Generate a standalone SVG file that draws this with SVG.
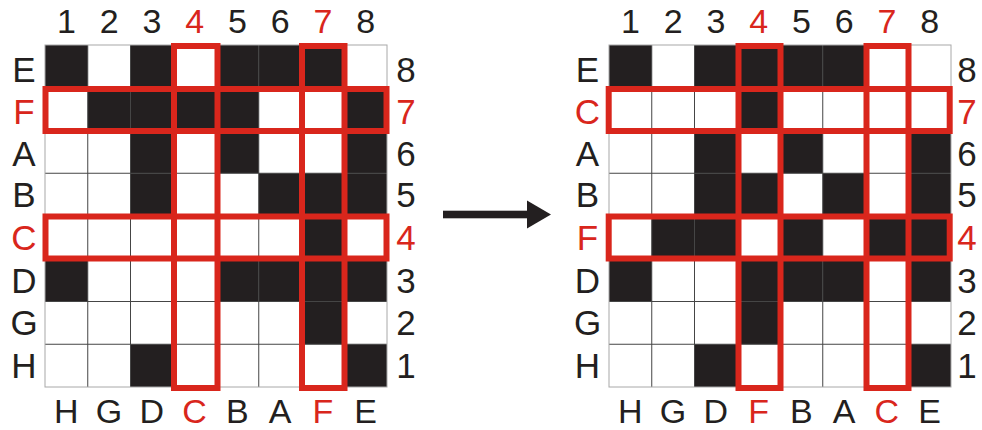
<svg xmlns="http://www.w3.org/2000/svg" width="982" height="430" viewBox="0 0 982 430">
<style>
  .b{fill:#231f20}
  .g{fill:none;stroke:#454545;stroke-width:1}
  .o{fill:none;stroke:#a8a8a8;stroke-width:1}
  .r{fill:none;stroke:#d9261c;stroke-width:6}
  text{font-family:"Liberation Sans",Arial,sans-serif;text-anchor:middle;fill:#231f20}
  .top{font-size:34px}
  .side{font-size:35px}
  .bot{font-size:34px}
  .red{fill:#d9261c}
</style>
<defs>
  <rect id="c" width="42.75" height="42.75"/>
</defs>
<rect width="982" height="430" fill="#fff"/>
<g id="left-grid">
  <g class="b">
    <use href="#c" x="45" y="45"/><use href="#c" x="130.5" y="45"/><use href="#c" x="216" y="45"/><use href="#c" x="258.75" y="45"/><use href="#c" x="301.5" y="45"/>
    <use href="#c" x="87.75" y="87.75"/><use href="#c" x="130.5" y="87.75"/><use href="#c" x="173.25" y="87.75"/><use href="#c" x="216" y="87.75"/><use href="#c" x="344.25" y="87.75"/>
    <use href="#c" x="130.5" y="130.5"/><use href="#c" x="216" y="130.5"/><use href="#c" x="344.25" y="130.5"/>
    <use href="#c" x="130.5" y="173.25"/><use href="#c" x="258.75" y="173.25"/><use href="#c" x="301.5" y="173.25"/><use href="#c" x="344.25" y="173.25"/>
    <use href="#c" x="301.5" y="216"/>
    <use href="#c" x="45" y="258.75"/><use href="#c" x="216" y="258.75"/><use href="#c" x="258.75" y="258.75"/><use href="#c" x="301.5" y="258.75"/><use href="#c" x="344.25" y="258.75"/>
    <use href="#c" x="301.5" y="301.5"/>
    <use href="#c" x="130.5" y="344.25"/><use href="#c" x="344.25" y="344.25"/>
  </g>
  <path class="g" d="M45 87.75H387M45 130.5H387M45 173.25H387M45 216H387M45 258.75H387M45 301.5H387M45 344.25H387M87.75 45V387M130.5 45V387M173.25 45V387M216 45V387M258.75 45V387M301.5 45V387M344.25 45V387"/>
  <rect class="o" x="45" y="45" width="342" height="342"/>
  <rect class="r" x="174" y="46" width="43.5" height="342"/>
  <rect class="r" x="302" y="46" width="42.5" height="342"/>
  <rect class="r" x="45.5" y="89" width="341" height="42"/>
  <rect class="r" x="45.5" y="216.5" width="341" height="42"/>
  <g class="top">
    <text x="66.4" y="33">1</text><text x="109.1" y="33">2</text><text x="151.9" y="33">3</text><text x="194.6" y="33" class="red">4</text><text x="237.4" y="33">5</text><text x="280.1" y="33">6</text><text x="322.9" y="33" class="red">7</text><text x="365.6" y="33">8</text>
  </g>
  <g class="side">
    <text x="24" y="82">E</text><text x="24" y="124" class="red">F</text><text x="24" y="166">A</text><text x="24" y="207">B</text><text x="24" y="250" class="red">C</text><text x="24" y="293">D</text><text x="24" y="335">G</text><text x="24" y="378">H</text>
    <text x="406" y="82">8</text><text x="406" y="124" class="red">7</text><text x="406" y="166">6</text><text x="406" y="207">5</text><text x="406" y="250" class="red">4</text><text x="406" y="293">3</text><text x="406" y="335">2</text><text x="406" y="378">1</text>
  </g>
  <g class="bot">
    <text x="66.4" y="423">H</text><text x="109.1" y="423">G</text><text x="151.9" y="423">D</text><text x="194.6" y="423" class="red">C</text><text x="237.4" y="423">B</text><text x="280.1" y="423">A</text><text x="322.9" y="423" class="red">F</text><text x="365.6" y="423">E</text>
  </g>
</g>
<g id="right-grid">
  <g class="b">
    <use href="#c" x="609" y="45"/><use href="#c" x="694.5" y="45"/><use href="#c" x="737.25" y="45"/><use href="#c" x="780" y="45"/><use href="#c" x="822.75" y="45"/>
    <use href="#c" x="737.25" y="87.75"/>
    <use href="#c" x="694.5" y="130.5"/><use href="#c" x="780" y="130.5"/><use href="#c" x="908.25" y="130.5"/>
    <use href="#c" x="694.5" y="173.25"/><use href="#c" x="737.25" y="173.25"/><use href="#c" x="822.75" y="173.25"/><use href="#c" x="908.25" y="173.25"/>
    <use href="#c" x="651.75" y="216"/><use href="#c" x="694.5" y="216"/><use href="#c" x="780" y="216"/><use href="#c" x="865.5" y="216"/><use href="#c" x="908.25" y="216"/>
    <use href="#c" x="609" y="258.75"/><use href="#c" x="737.25" y="258.75"/><use href="#c" x="780" y="258.75"/><use href="#c" x="822.75" y="258.75"/><use href="#c" x="908.25" y="258.75"/>
    <use href="#c" x="737.25" y="301.5"/>
    <use href="#c" x="694.5" y="344.25"/><use href="#c" x="908.25" y="344.25"/>
  </g>
  <path class="g" d="M609 87.75H951M609 130.5H951M609 173.25H951M609 216H951M609 258.75H951M609 301.5H951M609 344.25H951M651.75 45V387M694.5 45V387M737.25 45V387M780 45V387M822.75 45V387M865.5 45V387M908.25 45V387"/>
  <rect class="o" x="609" y="45" width="342" height="342"/>
  <rect class="r" x="738.5" y="46" width="42" height="342"/>
  <rect class="r" x="866.5" y="46" width="42" height="342"/>
  <rect class="r" x="608.7" y="89" width="341" height="42"/>
  <rect class="r" x="608.7" y="216.5" width="341" height="42"/>
  <g class="top">
    <text x="630.4" y="33">1</text><text x="673.1" y="33">2</text><text x="715.9" y="33">3</text><text x="758.6" y="33" class="red">4</text><text x="801.4" y="33">5</text><text x="844.1" y="33">6</text><text x="886.9" y="33" class="red">7</text><text x="929.6" y="33">8</text>
  </g>
  <g class="side">
    <text x="587.5" y="82">E</text><text x="587.5" y="124" class="red">C</text><text x="587.5" y="166">A</text><text x="587.5" y="207">B</text><text x="587.5" y="250" class="red">F</text><text x="587.5" y="293">D</text><text x="587.5" y="335">G</text><text x="587.5" y="378">H</text>
    <text x="967" y="82">8</text><text x="967" y="124" class="red">7</text><text x="967" y="166">6</text><text x="967" y="207">5</text><text x="967" y="250" class="red">4</text><text x="967" y="293">3</text><text x="967" y="335">2</text><text x="967" y="378">1</text>
  </g>
  <g class="bot">
    <text x="630.4" y="423">H</text><text x="673.1" y="423">G</text><text x="715.9" y="423">D</text><text x="758.6" y="423" class="red">F</text><text x="801.4" y="423">B</text><text x="844.1" y="423">A</text><text x="886.9" y="423" class="red">C</text><text x="929.6" y="423">E</text>
  </g>
</g>
<g id="connectors">
  <rect x="443" y="210.7" width="86" height="7.6" fill="#231f20"/>
  <polygon points="527,200.5 551,214.5 527,228.5" fill="#231f20"/>
</g>
</svg>
